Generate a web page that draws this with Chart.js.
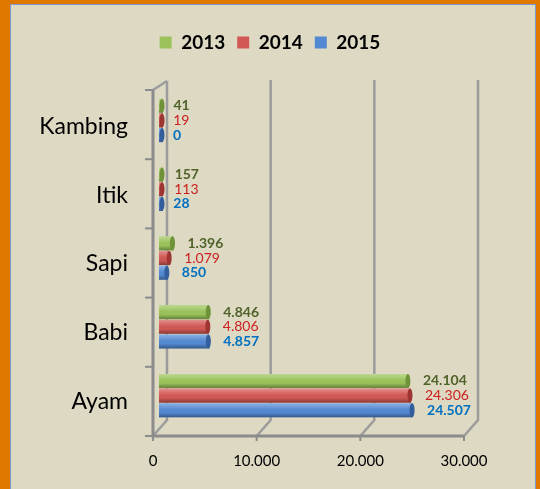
<!DOCTYPE html>
<html>
<head>
<meta charset="utf-8">
<script src="https://cdn.jsdelivr.net/npm/chart.js@4"></script>
<style>
html, body { margin: 0; padding: 0; background: #E07800; }
</style>
</head>
<body>
<canvas id="myChart" width="540" height="489"></canvas>
<script>
const categories = ["Kambing", "Itik", "Sapi", "Babi", "Ayam"];
const years = ["2013", "2014", "2015"];
const data2013 = [41, 157, 1396, 4846, 24104];
const data2014 = [19, 113, 1079, 4806, 24306];
const data2015 = [0, 28, 850, 4857, 24507];
const xTicks = [0, 10000, 20000, 30000];

const barColors = ["#9BC35A", "#D25855", "#5289D2"];
const capColors = ["#6F9238", "#9E3533", "#335E9E"];
const labelColors = ["#4F6228", "#CC1F1F", "#0070C0"];
const labelWeights = ["bold", "normal", "bold"];

function fmt(v) {
	return String(v).replace(/\B(?=(\d{3})+(?!\d))/g, ".");
}

const ctx = document.getElementById("myChart");

// background panel with orange frame
const panelPlugin = {
	id: "panel",
	beforeDraw(chart) {
		const c = chart.ctx;
		c.save();
		c.fillStyle = "#E07800";
		c.fillRect(0, 0, chart.width, chart.height);
		c.fillStyle = "#DDD9C3";
		c.fillRect(11, 5, 524, chart.height);
		c.strokeStyle = "#7A98CC";
		c.lineWidth = 1;
		c.strokeRect(10.5, 4.5, 525, chart.height + 5);
		c.restore();
	},
};

// fake 3d walls and axes
const framePlugin = {
	id: "frame",
	beforeDatasetsDraw(chart) {
		const c = chart.ctx;
		const xs = chart.scales.x;
		const ca = chart.chartArea;
		const fTop = ca.top + 4, fBot = ca.bottom + 6;
		const bTop = ca.top - 6, bBot = ca.bottom - 10;
		const x0 = xs.getPixelForValue(0);
		c.save();
		c.lineCap = "butt";
		// back wall grid
		c.strokeStyle = "#9C9C9C";
		c.lineWidth = 2.5;
		xTicks.forEach((v) => {
			const bx = xs.getPixelForValue(v) + 8;
			const fx = xs.getPixelForValue(v) - 6;
			c.beginPath();
			c.moveTo(bx, v === 0 ? bTop + 1 : bTop);
			c.lineTo(bx, bBot);
			c.lineTo(fx, fBot);
			c.stroke();
		});
		// top of left wall
		c.beginPath();
		c.moveTo(x0 - 6, fTop);
		c.lineTo(x0 + 8, bTop + 1);
		c.stroke();
		// front axes
		c.strokeStyle = "#8C8C8C";
		c.lineWidth = 3;
		c.beginPath();
		c.moveTo(x0 - 6, fTop);
		c.lineTo(x0 - 6, fBot);
		c.lineTo(xs.getPixelForValue(30000) - 6, fBot);
		c.stroke();
		c.lineWidth = 2;
		const step = (fBot - fTop) / categories.length;
		for (let i = 0; i <= categories.length; i++) {
			const y = fTop + i * step;
			c.beginPath();
			c.moveTo(x0 - 14, y);
			c.lineTo(x0 - 6, y);
			c.stroke();
		}
		xTicks.forEach((v) => {
			const fx = xs.getPixelForValue(v) - 6;
			c.beginPath();
			c.moveTo(fx, fBot);
			c.lineTo(fx, fBot + 5);
			c.stroke();
		});
		c.restore();
	},
	afterDatasetsDraw(chart) {
		const c = chart.ctx;
		const xs = chart.scales.x;
		c.save();
		chart.data.datasets.forEach((ds, di) => {
			const meta = chart.getDatasetMeta(di);
			meta.data.forEach((el, i) => {
				const left = Math.min(el.base, el.x);
				const right = Math.max(el.base, el.x);
				const top = el.y - el.height / 2;
				const h = el.height;
				const g = c.createLinearGradient(0, top, 0, top + h);
				g.addColorStop(0, "rgba(255,255,255,0.35)");
				g.addColorStop(0.35, "rgba(255,255,255,0.08)");
				g.addColorStop(0.65, "rgba(0,0,0,0)");
				g.addColorStop(1, "rgba(0,0,0,0.35)");
				c.fillStyle = g;
				c.fillRect(left, top, right - left, h);
				// end cap
				c.fillStyle = capColors[di];
				c.beginPath();
				c.ellipse(right - 1, el.y, 2.5, h / 2, 0, 0, Math.PI * 2);
				c.fill();
				// value label
				const v = ds.data[i];
				c.font = labelWeights[di] + " 14px Lato";
				c.fillStyle = labelColors[di];
				c.textAlign = "left";
				c.textBaseline = "middle";
				c.fillText(fmt(v), xs.getPixelForValue(v) + 14, el.y);
			});
		});
		c.restore();
	},
};

const livestockChart = new Chart(ctx, {
	type: "bar",
	data: {
		labels: categories,
		datasets: [
			{ label: years[0], data: data2013, backgroundColor: barColors[0] },
			{ label: years[1], data: data2014, backgroundColor: barColors[1] },
			{ label: years[2], data: data2015, backgroundColor: barColors[2] },
		],
	},
	options: {
		indexAxis: "y",
		responsive: false,
		animation: false,
		layout: { padding: { top: 21, left: 0, right: 0, bottom: 0 } },
		datasets: {
			bar: {
				borderWidth: 0,
				categoryPercentage: 0.64,
				barPercentage: 0.96,
				minBarLength: 4,
			},
		},
		plugins: {
			legend: {
				position: "top",
				labels: {
					boxWidth: 12,
					boxHeight: 12,
					padding: 12,
					color: "#000",
					font: { family: "Lato", size: 19, weight: "bold" },
				},
			},
			subtitle: {
				display: true,
				text: "",
				weight: 500,
				padding: 0,
				font: { size: 20, lineHeight: 1.2 },
			},
			tooltip: { enabled: false },
		},
		scales: {
			x: {
				position: "bottom",
				min: 0,
				max: 30000,
				grid: { display: false, drawTicks: false },
				border: { display: false },
				ticks: {
					stepSize: 10000,
					padding: 22,
					labelOffset: -6,
					color: "#000",
					font: { family: "Lato", size: 15 },
					callback: (v) => fmt(v),
				},
				afterFit: (s) => { s.height = 59; },
			},
			y: {
				grid: { display: false, drawTicks: false },
				border: { display: false },
				ticks: {
					padding: 31,
					labelOffset: 6,
					color: "#000",
					font: { family: "Lato", size: 23 },
				},
				afterFit: (s) => { s.width = 159; },
			},
			yr: {
				type: "category",
				position: "right",
				grid: { display: false, drawTicks: false },
				border: { display: false },
				ticks: { display: false },
				afterFit: (s) => { s.width = 70; },
			},
		},
	},
	plugins: [panelPlugin, framePlugin],
});
</script>
</body>
</html>
